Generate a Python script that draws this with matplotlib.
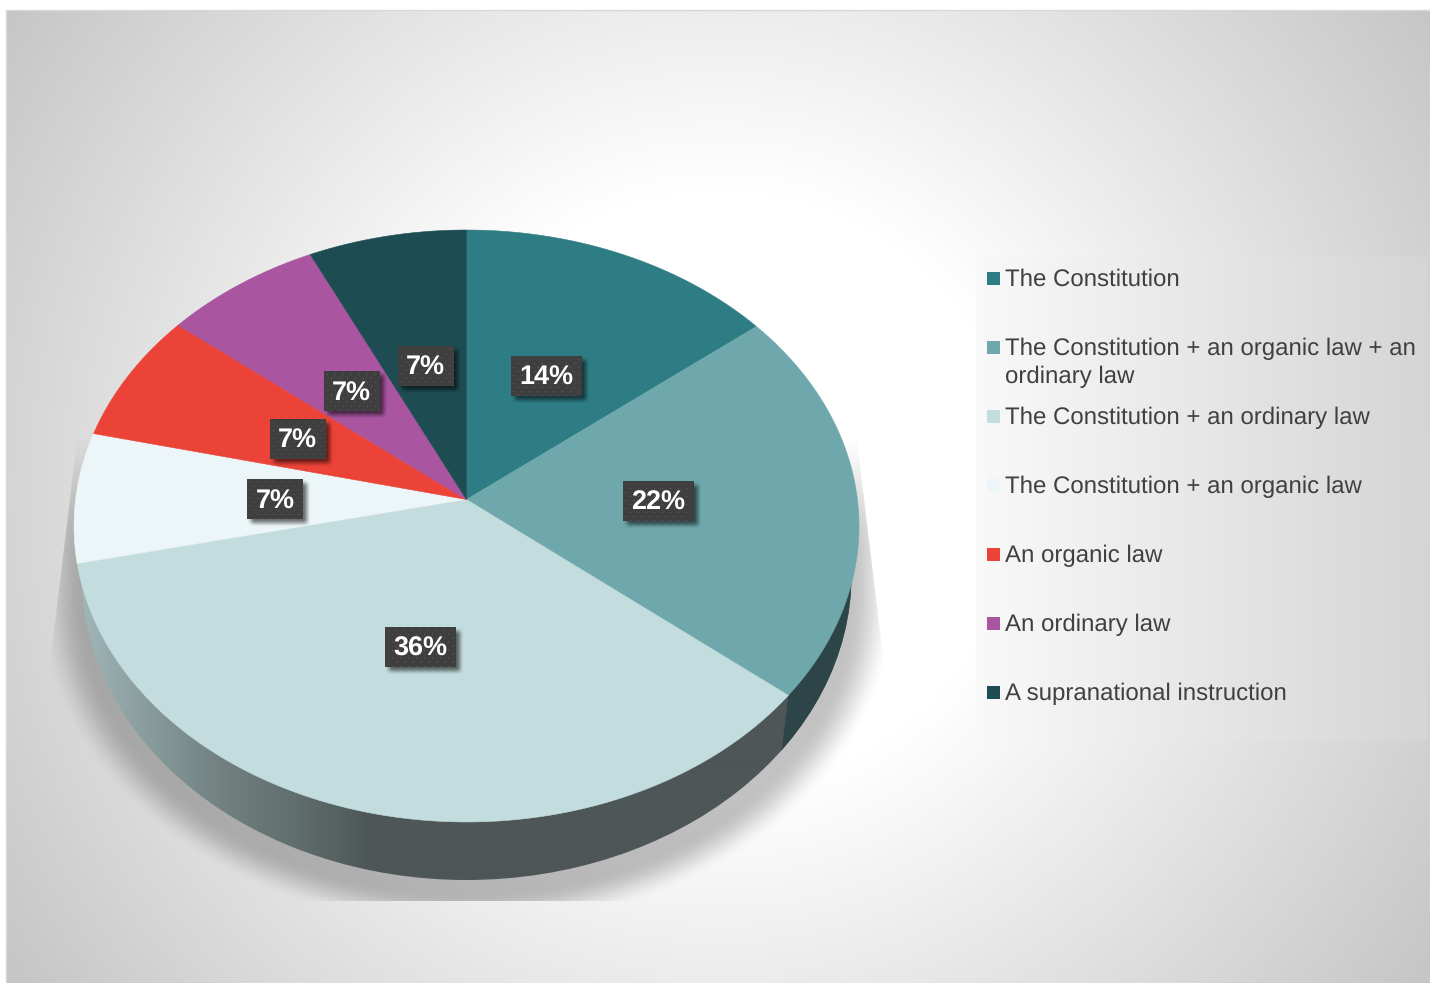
import numpy as np
import matplotlib
matplotlib.use('Agg')
import matplotlib.pyplot as plt
from matplotlib.colors import to_rgb
from matplotlib.patches import Ellipse, Polygon, Rectangle

plt.rcParams['text.hinting'] = 'no_hinting'
plt.rcParams['text.hinting_factor'] = 1

categories = [
    'The Constitution',
    'The Constitution + an organic law + an\nordinary law',
    'The Constitution + an ordinary law',
    'The Constitution + an organic law',
    'An organic law',
    'An ordinary law',
    'A supranational instruction',
]
values = [14.3, 21.5, 35.7, 7.1, 7.1, 7.1, 7.1]
colors = ['#2e7d85', '#6ea8ac', '#c3dcdd', '#ecf5f7', '#ec4339', '#a955a0', '#1d4d53']

W, H = 1430, 983

# pie geometry, perspective view of a unit disc
APEX_X, APEX_Y = 466.5, 499.5
RX, RY, PERSP = 390.9, 293.6, 0.0895


def project(r, deg):
    # deg is clockwise from the top
    u = r * np.sin(np.radians(deg))
    v = r * np.cos(np.radians(deg))
    k = 1 + PERSP * v
    return APEX_X + RX * u / k, APEX_Y - RY * v / k


def smooth(t):
    t = np.clip(t, 0, 1)
    return t * t * (3 - 2 * t)


def put_rgba(ax, arr, x0, x1, y0, y1, z, **kw):
    return ax.imshow(arr, extent=(x0, x1, y1, y0), origin='upper', aspect='auto',
                     zorder=z, interpolation='bilinear', **kw)


def black_alpha(alpha):
    arr = np.zeros(alpha.shape + (4,))
    arr[..., 3] = alpha
    return arr


fig = plt.figure(figsize=(W / 100, H / 100), dpi=100)
ax = fig.add_axes([0, 0, 1, 1])
ax.axis('off')

# background
xx, yy = np.meshgrid(np.arange(W) + 0.5, np.arange(H) + 0.5)
dist = np.hypot(xx - 720, yy - 490)
grey = 1 - 0.225 * np.clip((dist - 300) / 560, 0, 1)
bg_im = put_rgba(ax, np.dstack([grey, grey, grey]), 0, W, 0, H, 0)
bg_im.set_clip_path(Rectangle((6, 10), W - 6, H - 10, transform=ax.transData))
ax.add_patch(Rectangle((5.5, 9.5), W, H, fill=False, edgecolor='#d9d9d9', linewidth=1, zorder=1))

# shadow behind the pie
dy = np.clip(yy - 600, 0, None)
norm = np.sqrt(((xx - 467) / 430) ** 2 + (dy / 330) ** 2)
ramp = smooth((yy - 425) / 130)
shadow = 0.24 * smooth((1 - norm) / 0.11) * ramp
shadow_im = put_rgba(ax, black_alpha(shadow), 0, W, 0, H, 2)
shadow_clip = Polygon([(77, 440), (50, 665), (50, 901), (884, 901), (884, 665), (857, 440)],
                      closed=True, transform=ax.transData)
shadow_im.set_clip_path(shadow_clip)

# side wall, lower disc outline
bottom = Ellipse((466.5, 575), 770, 610, transform=ax.transData)
stops_x = [75, 130, 200, 300, 370, 860]
stops_c = ['#a3b9bb', '#8fa3a4', '#778888', '#5f6d6b', '#4e5657', '#4e5657']
stops_rgb = np.array([to_rgb(c) for c in stops_c])
col_x = np.arange(60, 880) + 0.5
side = np.dstack([np.interp(col_x, stops_x, stops_rgb[:, i])[None, :] for i in range(3)])
side_im = put_rgba(ax, side, 60, 880, 500, 900, 3)
side_im.set_clip_path(bottom)

# the 22% slice has its own darker wall
edges = 360 * np.cumsum([0] + values) / sum(values)
bx, by = project(1, edges[2])
wall = Polygon([(bx, by - 200), (bx, by), (bx - 7, by + 58), (900, by + 58), (900, by - 200)],
               closed=True, facecolor='#2d4448', edgecolor='none', zorder=4)
ax.add_patch(wall)
wall.set_clip_path(Ellipse((466.5, 575), 770, 610, transform=ax.transData))

# top face
for i in range(len(values)):
    arc = np.linspace(edges[i], edges[i + 1], 120)
    px, py = project(1, arc)
    ax.fill(np.r_[APEX_X, px], np.r_[APEX_Y, py], facecolor=colors[i], edgecolor=colors[i],
            linewidth=0.4, zorder=5)

# data labels
texture_dark = to_rgb('#3f3f3f')
texture_dot = to_rgb('#606060')
for i, v in enumerate(values):
    cx, cy = project(0.49, (edges[i] + edges[i + 1]) / 2)
    cy += 1
    bw = 56 if v < 10 else 71
    bh = 40
    x0, y0 = cx - bw / 2, cy - bh / 2

    # soft shadow
    sx = np.arange(-10, bw + 20) + 0.5
    sy = np.arange(-10, bh + 20) + 0.5
    ax_x = smooth((sx - 0) / 8) * smooth((bw + 8 - sx) / 8)
    ax_y = smooth((sy - 0) / 8) * smooth((bh + 8 - sy) / 8)
    put_rgba(ax, black_alpha(0.55 * np.outer(ax_y, ax_x)),
             x0 - 10, x0 + bw + 20, y0 - 10, y0 + bh + 20, 6)

    tex = np.ones((bh, bw, 3)) * texture_dark
    tex[3::8, 3::8] = texture_dot
    tex[7::8, 7::8] = texture_dot
    ax.imshow(tex, extent=(x0, x0 + bw, y0 + bh, y0), origin='upper', aspect='auto',
              zorder=7, interpolation='nearest')
    ax.text(cx, cy + 2, f'{v:.0f}%', color='white', fontsize=19.2, fontweight='bold',
            family='Liberation Sans', ha='center', va='center', zorder=8)

# legend panel
panel_x = np.linspace(0, 1, 200)
panel_grey = 0.976 - 0.14 * panel_x
panel = np.dstack([panel_grey[None, :]] * 3)
put_rgba(ax, panel, 976, 1427, 257, 741, 9)

legend_y = 278
for i, name in enumerate(categories):
    ax.add_patch(Rectangle((987, legend_y - 6.5), 13, 13, facecolor=colors[i], edgecolor='none', zorder=10))
    ax.text(1005, legend_y - 9.3, name, color='#404040', fontsize=17.3, family='Liberation Sans',
            ha='left', va='top', linespacing=1.3, zorder=10)
    legend_y += 69

ax.set_xlim(0, W)
ax.set_ylim(H, 0)
fig.savefig('out.png', dpi=100, facecolor='white')
